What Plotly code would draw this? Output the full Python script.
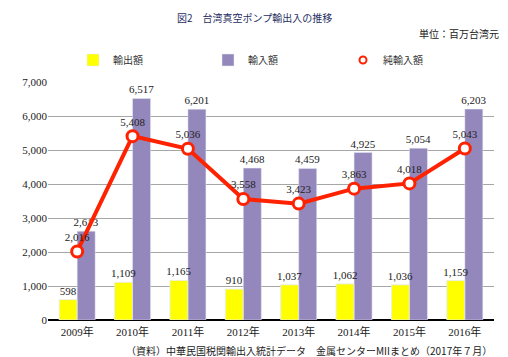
import plotly.graph_objects as go

years = ["2009年", "2010年", "2011年", "2012年", "2013年", "2014年", "2015年", "2016年"]
exports = [598, 1109, 1165, 910, 1037, 1062, 1036, 1159]
imports = [2613, 6517, 6201, 4468, 4459, 4925, 5054, 6203]
net_imports = [2016, 5408, 5036, 3558, 3423, 3863, 4018, 5043]

serif = "Liberation Serif, Noto Sans CJK JP"
cjk = "Noto Sans CJK JP"

# the page body has an 8px margin; work in window pixels and shift
OFF = 8
FW, FH = 508 - OFF, 357 - OFF
L, T, R, B = 48 - OFF, 82 - OFF, 14, 37
W, H = FW - L - R, FH - T - B
def px(x): return (x - OFF - L) / W
def py(y): return (FH - B - (y - OFF)) / H

lblfont = dict(family=serif, size=11, color="#222")

fig = go.Figure()
fig.add_trace(go.Bar(
    x=years, y=exports, name="輸出額", marker_color="#FFFF00", offsetgroup="ex",
))
fig.add_trace(go.Bar(
    x=years, y=imports, name="輸入額", marker_color="#9487BB", offsetgroup="im",
    text=[f"{v:,}" for v in imports], textposition="outside", constraintext="none",
    textfont=lblfont, cliponaxis=False,
))
# labels for the export bars, drawn above the import bars
fig.add_trace(go.Bar(
    x=years, y=exports, name="輸出額ラベル", offsetgroup="ex", showlegend=False,
    marker=dict(color="rgba(0,0,0,0)"), hoverinfo="skip",
    text=[f"{v:,}" for v in exports], textposition="outside", constraintext="none",
    textfont=lblfont, cliponaxis=False,
))
fig.add_trace(go.Scatter(
    x=years, y=net_imports, name="純輸入額", mode="lines+markers+text",
    line=dict(color="#FF2200", width=4),
    marker=dict(symbol="circle", size=11, color="white", line=dict(color="#FF2200", width=3)),
    text=[f"{v:,}" for v in net_imports], textposition="top center",
    textfont=lblfont, cliponaxis=False,
    showlegend=False,
))
fig.add_trace(go.Scatter(
    x=[None], y=[None], name="純輸入額", mode="markers",
    marker=dict(symbol="circle", size=7, color="white", line=dict(color="#FF2200", width=2)),
))

fig.update_layout(
    width=FW, height=FH,
    margin=dict(l=L, r=R, t=T, b=B),
    paper_bgcolor="white", plot_bgcolor="white",
    barmode="group", bargap=0.35, bargroupgap=0,
    showlegend=True,
    legend=dict(orientation="h", x=px(73), y=py(60), xanchor="left", yanchor="middle",
                entrywidth=90, entrywidthmode="pixels",
                font=dict(family=cjk, size=10, color="#333"), itemclick=False),
    xaxis=dict(showgrid=False, ticks="", tickfont=dict(family=serif, size=11, color="#222"),
               showline=False, ticklabelstandoff=4),
    yaxis=dict(range=[0, 7000], dtick=1000, tickformat=",", showgrid=True,
               gridcolor="#A6A6A6", gridwidth=1, zeroline=True, zerolinecolor="#000",
               zerolinewidth=2, tickfont=dict(family=serif, size=11, color="#222"),
               ticks="", ticklen=0),
    annotations=[
        dict(text="図2　台湾真空ポンプ輸出入の推移", x=px(254), y=py(8.5),
             xanchor="center", yanchor="top", borderpad=0, xref="paper", yref="paper",
             showarrow=False, font=dict(family=cjk, size=10, color="#1F2F5F")),
        dict(text="単位：百万台湾元", x=px(501), y=py(33),
             xanchor="right", yanchor="middle", xref="paper", yref="paper",
             showarrow=False, font=dict(family=cjk, size=10, color="#222")),
        dict(text="（資料）中華民国税関輸出入統計データ　金属センターMIIまとめ（2017年７月）",
             x=px(494), y=py(350), xanchor="right", yanchor="middle",
             xref="paper", yref="paper", showarrow=False,
             font=dict(family=cjk, size=10, color="#222")),
    ],
)

fig.write_html("out.html")
